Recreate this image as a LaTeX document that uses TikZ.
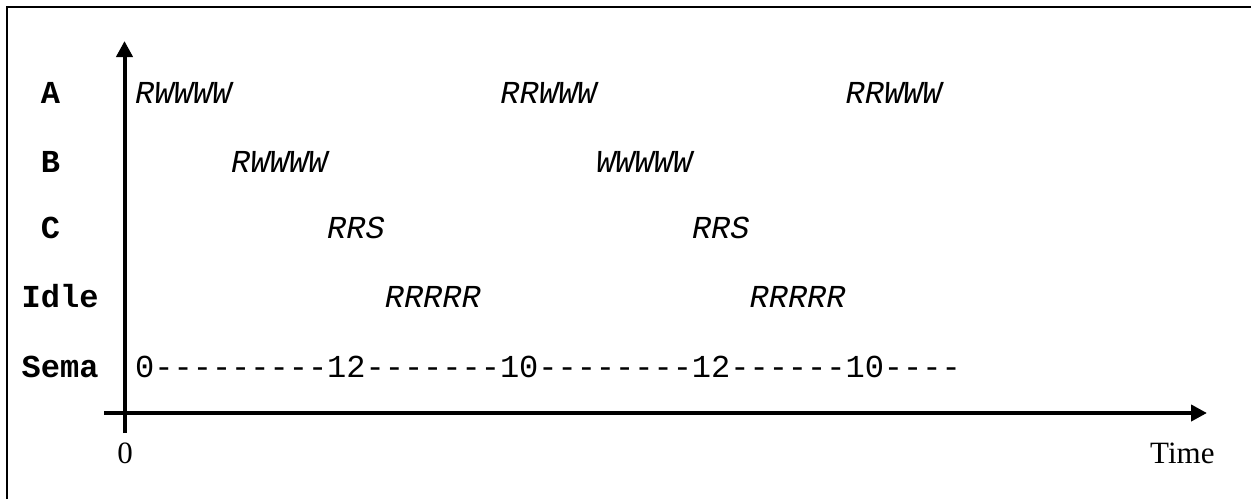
\documentclass[tikz,border=0pt]{standalone}
\usepackage{fontspec}
\usetikzlibrary{arrows.meta}
\newfontfamily\cour{Liberation Mono}
\newfontfamily\tms{Liberation Serif}
\begin{document}
\begin{tikzpicture}[x=1pt,y=-1pt,
  lbl/.style={anchor=base west,inner sep=0pt,font=\cour\bfseries\fontsize{32}{38}\selectfont},
  ev/.style={anchor=base west,inner sep=0pt,font=\cour\itshape\fontsize{32}{38}\selectfont},
  sem/.style={anchor=base west,inner sep=0pt,font=\cour\fontsize{32}{38}\selectfont},
  tm/.style={inner sep=0pt,font=\tms\fontsize{31}{37}\selectfont},
  axisline/.style={line width=4pt,-{Triangle[length=16pt,width=16pt]}},
  frameline/.style={line width=2.5pt}]
\useasboundingbox (0,0) rectangle (1251,499);
% frame (only top and left edges fall inside the picture)
\coordinate (f1) at (7,499);
\coordinate (f2) at (7,7);
\coordinate (f3) at (1251,7);
\draw[frameline] (f1) -- (f2) -- (f3);
% axes
\coordinate (yb) at (124.5,433);
\coordinate (yt) at (124.5,41);
\coordinate (xb) at (104,413);
\coordinate (xt) at (1207,413);
\draw[axisline] (yb) -- (yt);
\draw[axisline] (xb) -- (xt);
% row labels
\node[lbl] (la) at (40.7,103) {A};
\node[lbl] (lb) at (40.7,172) {B};
\node[lbl] (lc) at (40.7,238) {C};
\node[lbl] (li) at (21.5,307) {Idle};
\node[lbl] (ls) at (21.5,377) {Sema};
% events
\node[ev] (a1) at (135,103) {RWWWW};
\node[ev] (a2) at (500.2,103) {RRWWW};
\node[ev] (a3) at (845.4,103) {RRWWW};
\node[ev] (b1) at (231,172) {RWWWW};
\node[ev] (b2) at (595.8,172) {WWWWW};
\node[ev] (c1) at (327,238) {RRS};
\node[ev] (c2) at (691.8,238) {RRS};
\node[ev] (i1) at (384.6,307) {RRRRR};
\node[ev] (i2) at (749.4,307) {RRRRR};
\node[sem] (s) at (135,377) {0---------12-------10--------12------10----};
% axis labels
\node[tm,anchor=base] (zero) at (125,463) {0};
\node[tm,anchor=base west] (time) at (1150,463) {Time};
\end{tikzpicture}
\end{document}
